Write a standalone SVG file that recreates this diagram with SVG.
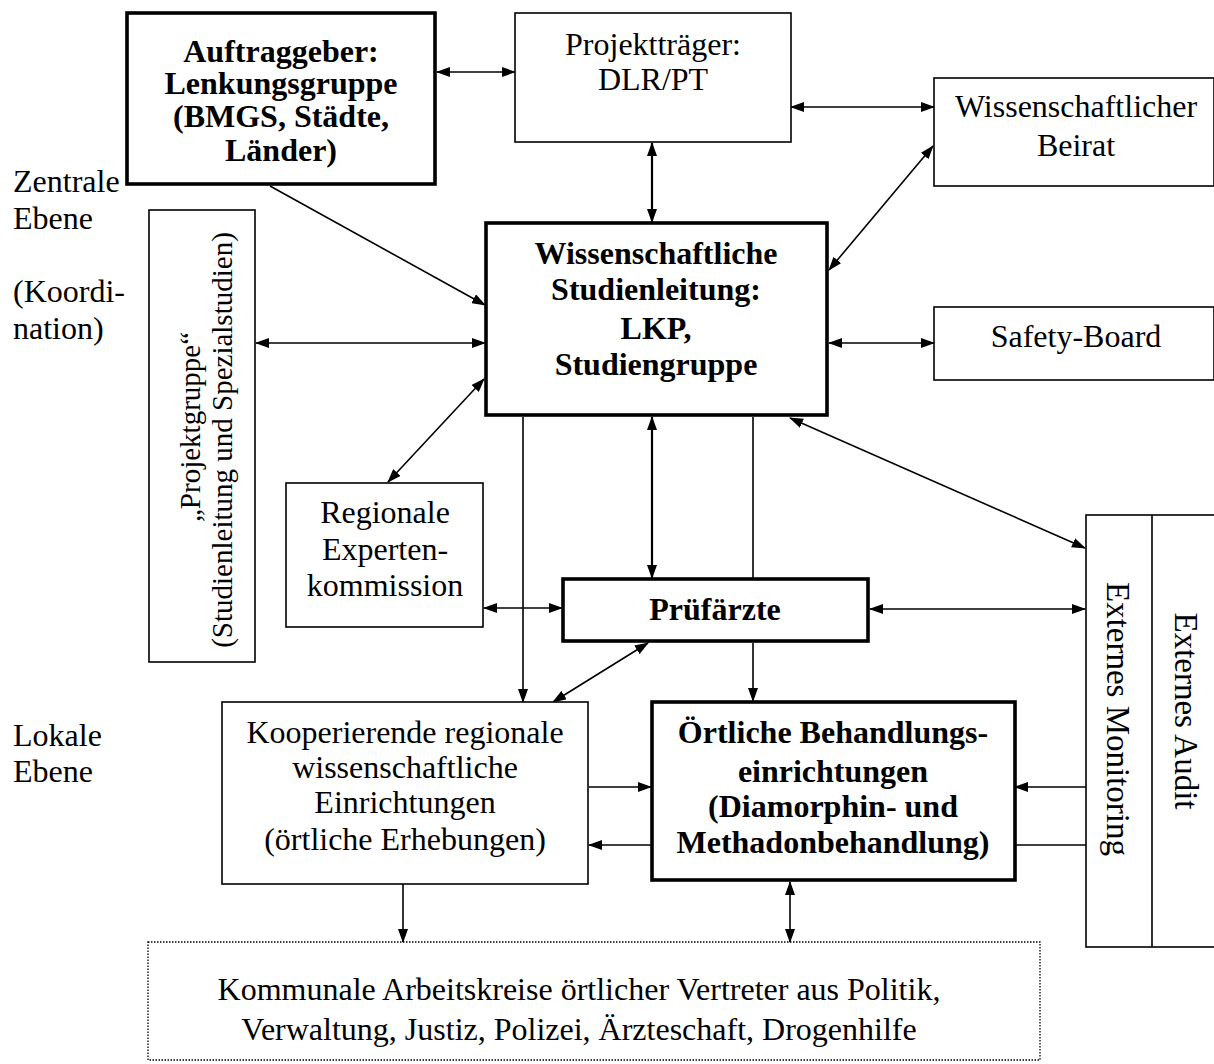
<svg xmlns="http://www.w3.org/2000/svg" width="1214" height="1064" viewBox="0 0 1214 1064">
<style>
text{font-family:"Liberation Serif","Times New Roman",serif;font-size:32px;fill:#000;text-anchor:middle}
.b{font-weight:bold}
.l{text-anchor:start}
.pg{font-size:29px}
.ex{font-size:33px}
.box{fill:#fff;stroke:#000;stroke-width:1.6}
.thick{fill:#fff;stroke:#000;stroke-width:3.6}
.dot{fill:none;stroke:#000;stroke-width:1.3;stroke-dasharray:1.5 1.5}
.c line{stroke:#000;stroke-width:1.6;fill:none}
.c .w{stroke-width:2.2}
</style>
<defs>
<marker id="a" markerUnits="userSpaceOnUse" markerWidth="14" markerHeight="10" refX="13" refY="5" orient="auto-start-reverse" viewBox="0 0 14 10">
<path d="M0,0 L14,5 L0,10 z" fill="#000"/>
</marker>
</defs>
<rect width="1214" height="1064" fill="#fff"/>

<g id="labels">
<text class="l" x="13" y="192">Zentrale</text>
<text class="l" x="13" y="229">Ebene</text>
<text class="l" x="13" y="302">(Koordi-</text>
<text class="l" x="13" y="339">nation)</text>
<text class="l" x="13" y="746">Lokale</text>
<text class="l" x="13" y="782">Ebene</text>
</g>

<g class="c" id="connectors">
<line x1="437" y1="72" x2="515" y2="72" marker-start="url(#a)" marker-end="url(#a)"/>
<line x1="791" y1="107" x2="934" y2="107" marker-start="url(#a)" marker-end="url(#a)"/>
<line class="w" x1="652" y1="143" x2="652" y2="222" marker-start="url(#a)" marker-end="url(#a)"/>
<line x1="933" y1="146" x2="829" y2="270" marker-start="url(#a)" marker-end="url(#a)"/>
<line x1="270" y1="186" x2="485" y2="305" marker-end="url(#a)"/>
<line x1="256" y1="343" x2="485" y2="343" marker-start="url(#a)" marker-end="url(#a)"/>
<line x1="829" y1="343" x2="934" y2="343" marker-start="url(#a)" marker-end="url(#a)"/>
<line x1="388" y1="482" x2="484" y2="379" marker-start="url(#a)" marker-end="url(#a)"/>
<line x1="484" y1="608" x2="562" y2="608" marker-start="url(#a)" marker-end="url(#a)"/>
<line x1="523" y1="417" x2="523" y2="702" marker-end="url(#a)"/>
<line class="w" x1="652" y1="417" x2="652" y2="578" marker-start="url(#a)" marker-end="url(#a)"/>
<line x1="753" y1="417" x2="753" y2="578"/>
<line x1="753" y1="643" x2="753" y2="701" marker-end="url(#a)"/>
<line x1="648" y1="643" x2="553" y2="702" marker-start="url(#a)" marker-end="url(#a)"/>
<line x1="790" y1="418" x2="1085" y2="548" marker-start="url(#a)" marker-end="url(#a)"/>
<line x1="870" y1="609" x2="1085" y2="609" marker-start="url(#a)" marker-end="url(#a)"/>
<line x1="589" y1="787" x2="651" y2="787" marker-end="url(#a)"/>
<line x1="651" y1="845" x2="589" y2="845" marker-end="url(#a)"/>
<line x1="1086" y1="787" x2="1015" y2="787" marker-end="url(#a)"/>
<line x1="1086" y1="845" x2="1015" y2="845"/>
<line x1="403" y1="884" x2="403" y2="942" marker-end="url(#a)"/>
<line x1="790" y1="882" x2="790" y2="942" marker-start="url(#a)" marker-end="url(#a)"/>
</g>

<g id="auftraggeber">
<rect class="thick" x="127" y="13" width="308" height="171"/>
<text class="b" x="281" y="62">Auftraggeber:</text>
<text class="b" x="281" y="94">Lenkungsgruppe</text>
<text class="b" x="281" y="127">(BMGS, Städte,</text>
<text class="b" x="281" y="161">Länder)</text>
</g>

<g id="projekttraeger">
<rect class="box" x="515" y="13" width="276" height="129"/>
<text x="653" y="55">Projektträger:</text>
<text x="653" y="90">DLR/PT</text>
</g>

<g id="beirat">
<rect class="box" x="934" y="78" width="280" height="108"/>
<text x="1076" y="117">Wissenschaftlicher</text>
<text x="1076" y="156">Beirat</text>
</g>

<g id="safety">
<rect class="box" x="934" y="307" width="280" height="73"/>
<text x="1076" y="347">Safety-Board</text>
</g>

<g id="studienleitung">
<rect class="thick" x="486" y="223" width="341" height="192"/>
<text class="b" x="656" y="264">Wissenschaftliche</text>
<text class="b" x="656" y="300">Studienleitung:</text>
<text class="b" x="656" y="339">LKP,</text>
<text class="b" x="656" y="375">Studiengruppe</text>
</g>

<g id="projektgruppe">
<rect class="box" x="149" y="210" width="106" height="452"/>
<text class="pg" transform="translate(200,427) rotate(-90)">„Projektgruppe“</text>
<text class="pg" transform="translate(232,440) rotate(-90)">(Studienleitung und Spezialstudien)</text>
</g>

<g id="expertenkommission">
<rect class="box" x="286" y="483" width="197" height="144"/>
<text x="385" y="523">Regionale</text>
<text x="385" y="560">Experten-</text>
<text x="385" y="596">kommission</text>
</g>

<g id="pruefaerzte">
<rect class="thick" x="563" y="579" width="305" height="62"/>
<text class="b" x="715" y="620">Prüfärzte</text>
</g>

<g id="extern">
<rect class="box" x="1086" y="515" width="130" height="432"/>
<line x1="1152" y1="515" x2="1152" y2="947" stroke="#000" stroke-width="1.6"/>
<text class="ex" transform="translate(1107,719) rotate(90)">Externes Monitoring</text>
<text class="ex" transform="translate(1175,711) rotate(90)">Externes Audit</text>
</g>

<g id="kooperierende">
<rect class="box" x="222" y="702" width="366" height="182"/>
<text x="405" y="743">Kooperierende regionale</text>
<text x="405" y="778">wissenschaftliche</text>
<text x="405" y="813">Einrichtungen</text>
<text x="405" y="850">(örtliche Erhebungen)</text>
</g>

<g id="oertliche">
<rect class="thick" x="652" y="702" width="363" height="178"/>
<text class="b" x="833" y="743">Örtliche Behandlungs-</text>
<text class="b" x="833" y="782">einrichtungen</text>
<text class="b" x="833" y="817">(Diamorphin- und</text>
<text class="b" x="833" y="853">Methadonbehandlung)</text>
</g>

<g id="kommunale">
<rect class="dot" x="148" y="942" width="892" height="118"/>
<text x="579" y="1000">Kommunale Arbeitskreise örtlicher Vertreter aus Politik,</text>
<text x="579" y="1040">Verwaltung, Justiz, Polizei, Ärzteschaft, Drogenhilfe</text>
</g>
</svg>
